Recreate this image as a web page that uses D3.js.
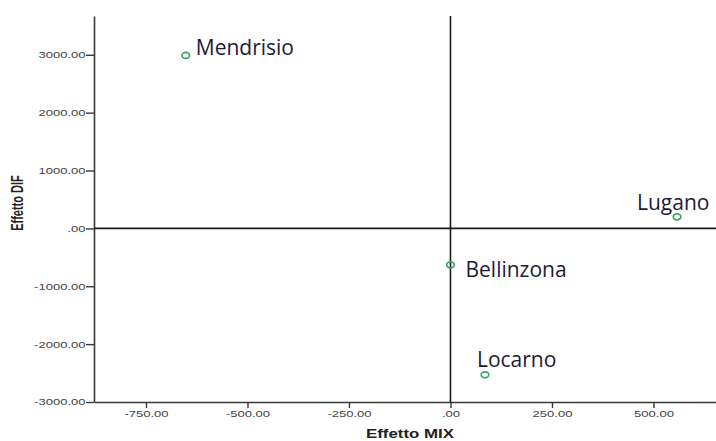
<!DOCTYPE html>
<html><head><meta charset="utf-8">
<script src="https://cdn.jsdelivr.net/npm/d3@7"></script>
<style>body{margin:0;background:#fff}svg{display:block}</style>
</head><body>
<svg id="c" width="716" height="441"></svg>
<script>
const names = ["Mendrisio", "Lugano", "Bellinzona", "Locarno"];
const mixValues = [-652, 558, 0, 85];
const difValues = [2988, 199, -630, -2530];
const xTicks = [-750, -500, -250, 0, 250, 500];
const yTicks = [-3000, -2000, -1000, 0, 1000, 2000, 3000];
const xTitle = "Effetto MIX";
const yTitle = "Effetto DIF";
// label placement (layout only)
const labelDx = [10, -40, 15, -8];
const labelDy = [0, -7, 12, -8];

const W = 716, H = 441;
const m = {left: 94, right: 0, top: 16, bottom: 39};
const SX = 1.45; // horizontal stretch of axis text
const svg = d3.select("#c");
const x = d3.scaleLinear().domain([-878, 654]).range([m.left, W - m.right]);
const y = d3.scaleLinear().domain([-3000, 3670]).range([H - m.bottom, m.top]);
const fmt = v => v === 0 ? ".00" : (v < 0 ? "-" : "") + Math.abs(v).toFixed(2);
const axFont = "Arial, 'Liberation Sans', sans-serif";

const xAxis = svg.append("g").attr("transform", `translate(0,${H - m.bottom})`)
  .call(d3.axisBottom(x).tickValues(xTicks).tickFormat(fmt).tickSize(6).tickSizeOuter(0));
const yAxis = svg.append("g").attr("transform", `translate(${m.left},0)`)
  .call(d3.axisLeft(y).tickValues(yTicks).tickFormat(fmt).tickSize(8).tickSizeOuter(0));
[xAxis, yAxis].forEach(g => {
  g.select(".domain").attr("stroke", "#3a3a3a").attr("stroke-width", 1.6);
  g.selectAll(".tick line").attr("stroke", "#3a3a3a").attr("stroke-width", 1.4);
  g.selectAll(".tick text").attr("fill", "#444").style("font-family", axFont).style("font-size", "9px")
    .attr("transform", `scale(${SX},1)`);
});
xAxis.selectAll(".tick text").attr("y", 9).attr("dy", "0.71em");
yAxis.selectAll(".tick text").attr("x", -8.5 / SX);

// reference lines
svg.append("line").attr("x1", x(0)).attr("x2", x(0)).attr("y1", m.top).attr("y2", H - m.bottom)
  .attr("stroke", "#1a1a1a").attr("stroke-width", 1.6);
svg.append("line").attr("x1", m.left).attr("x2", W).attr("y1", y(0)).attr("y2", y(0))
  .attr("stroke", "#1a1a1a").attr("stroke-width", 1.6);

// titles
svg.append("text").attr("transform", `translate(410,438) scale(1.35,1)`).attr("text-anchor", "middle")
  .style("font-family", axFont).style("font-weight", "bold").style("font-size", "12.5px")
  .attr("fill", "#222").text(xTitle);
svg.append("text").attr("transform", `translate(23,203) scale(${SX},1) rotate(-90)`).attr("text-anchor", "middle")
  .style("font-family", axFont).style("font-weight", "bold").style("font-size", "11px")
  .attr("fill", "#222").text(yTitle);

const data = names.map((n, i) => ({n, mx: mixValues[i], df: difValues[i], dx: labelDx[i], dy: labelDy[i]}));
svg.selectAll("ellipse.pt").data(data).join("ellipse").attr("class", "pt")
  .attr("cx", d => x(d.mx)).attr("cy", d => y(d.df)).attr("rx", 3.8).attr("ry", 3)
  .attr("fill", "none").attr("stroke", "#3aa56b").attr("stroke-width", 1.7);

svg.selectAll("text.lbl").data(data).join("text").attr("class", "lbl")
  .attr("x", d => x(d.mx) + d.dx)
  .attr("y", d => y(d.df) + d.dy)
  .style("font-family", "'Open Sans', 'Noto Sans', sans-serif").style("font-size", "21px")
  .attr("fill", "#1e1a36").text(d => d.n);
</script>
</body></html>
